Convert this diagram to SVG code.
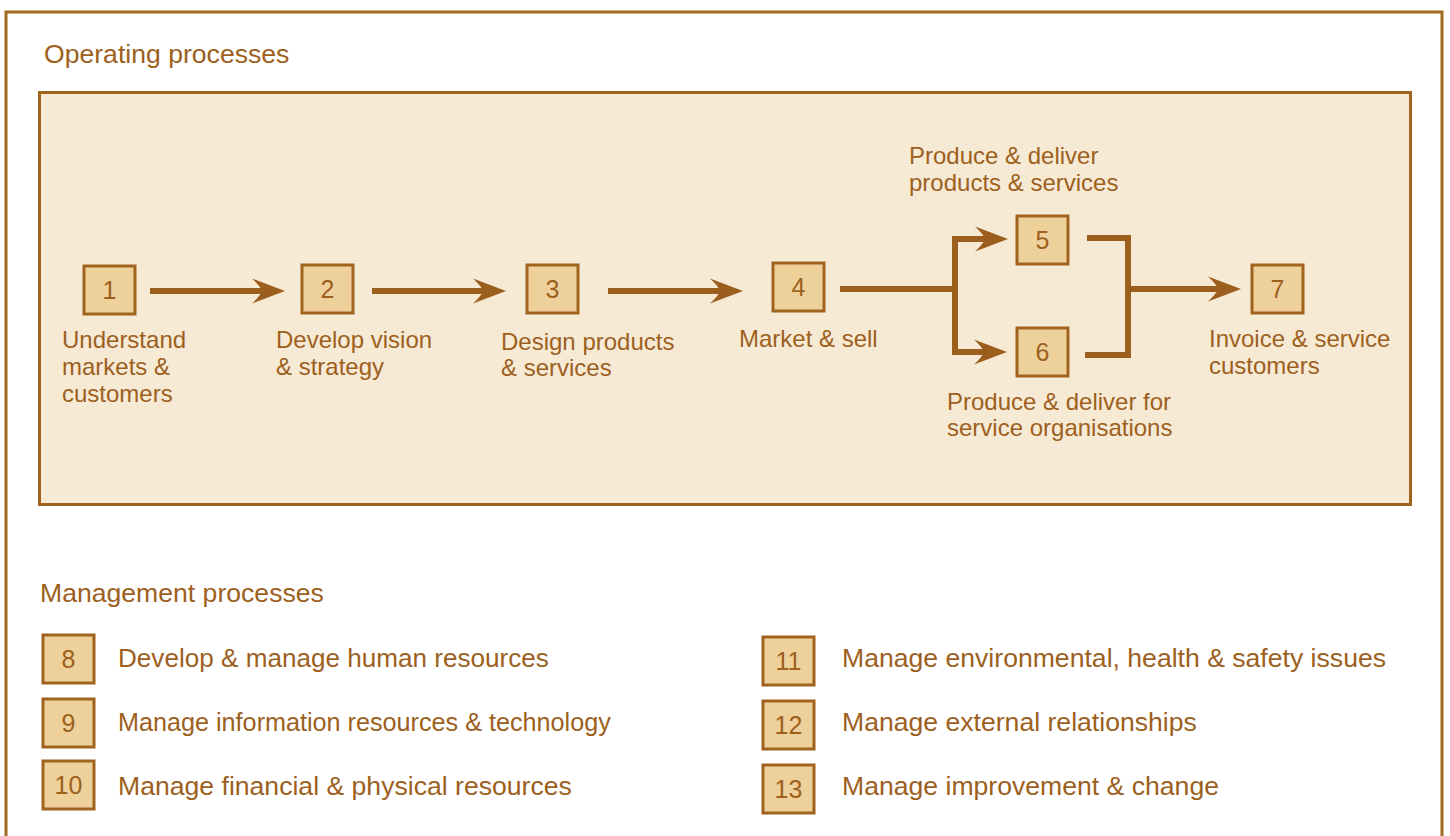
<svg xmlns="http://www.w3.org/2000/svg" width="1450" height="836" viewBox="0 0 1450 836">
<defs>
<style>
text{font-family:"Liberation Sans",Arial,sans-serif;fill:#9d601d;font-size:24px}
.big{font-size:26.6px}
.num{text-anchor:middle;font-size:25px}
.box{fill:#eed09b;stroke:#a1641f;stroke-width:3}
.ln{fill:none;stroke:#9b5e1d;stroke-width:6}
.arr{fill:none;stroke:#9b5e1d;stroke-width:6;marker-end:url(#ah)}
</style>
<marker id="ah" markerUnits="userSpaceOnUse" markerWidth="36" markerHeight="28" viewBox="0 0 36 28" refX="11" refY="14" orient="auto">
<path d="M34,14 L1,1.5 Q10,10 11,14 Q10,18 1,26.5 Z" fill="#9b5e1d"/>
</marker>
</defs>
<rect width="1450" height="836" fill="#ffffff"/>
<path d="M6,845 V12 H1442 V845" fill="none" stroke="#a3681f" stroke-width="3"/>
<text class="big" x="44" y="63">Operating processes</text>
<rect x="39.5" y="92.5" width="1371" height="412" fill="#f7ead5" stroke="#a1641f" stroke-width="3"/>

<g id="connectors">
<path class="arr" d="M150,291 H262"/>
<path class="arr" d="M372,291 H483"/>
<path class="arr" d="M608,291 H720"/>
<path class="ln" d="M840,289 H955"/>
<path class="ln" d="M955,236 V355"/>
<path class="arr" d="M952,239 H985"/>
<path class="arr" d="M952,352 H984"/>
<path class="ln" d="M1087,238 H1128 V355 H1085"/>
<path class="arr" d="M1128,289 H1218"/>
</g>

<g id="n1"><rect class="box" x="84" y="266" width="51" height="48"/><text class="num" x="109.5" y="299">1</text>
<text x="62" y="348">Understand</text><text x="62" y="375">markets &amp;</text><text x="62" y="402">customers</text></g>
<g id="n2"><rect class="box" x="302" y="265" width="51" height="48"/><text class="num" x="327.5" y="298">2</text>
<text x="276" y="348">Develop vision</text><text x="276" y="375">&amp; strategy</text></g>
<g id="n3"><rect class="box" x="527" y="265" width="51" height="48"/><text class="num" x="552.5" y="298">3</text>
<text x="501" y="350">Design products</text><text x="501" y="376">&amp; services</text></g>
<g id="n4"><rect class="box" x="773" y="263" width="51" height="48"/><text class="num" x="798.5" y="296">4</text>
<text x="739" y="347">Market &amp; sell</text></g>
<g id="n5"><rect class="box" x="1017" y="216" width="51" height="48"/><text class="num" x="1042.5" y="249">5</text>
<text x="909" y="164">Produce &amp; deliver</text><text x="909" y="191">products &amp; services</text></g>
<g id="n6"><rect class="box" x="1017" y="328" width="51" height="48"/><text class="num" x="1042.5" y="361">6</text>
<text x="947" y="410">Produce &amp; deliver for</text><text x="947" y="436">service organisations</text></g>
<g id="n7"><rect class="box" x="1252" y="265" width="51" height="48"/><text class="num" x="1277.5" y="298">7</text>
<text x="1209" y="347">Invoice &amp; service</text><text x="1209" y="374">customers</text></g>

<text class="big" x="40" y="602">Management processes</text>
<g id="n8"><rect class="box" x="43" y="635" width="51" height="48"/><text class="num" x="68.5" y="668">8</text><text class="big" x="118" y="667" style="font-size:26.1px">Develop &amp; manage human resources</text></g>
<g id="n9"><rect class="box" x="43" y="699" width="51" height="48"/><text class="num" x="68.5" y="732">9</text><text class="big" x="118" y="731" style="font-size:25.2px">Manage information resources &amp; technology</text></g>
<g id="n10"><rect class="box" x="43" y="761" width="51" height="48"/><text class="num" x="68.5" y="794">10</text><text class="big" x="118" y="795">Manage financial &amp; physical resources</text></g>
<g id="n11"><rect class="box" x="763" y="637" width="51" height="48"/><text class="num" x="788.5" y="670">11</text><text class="big" x="842" y="667">Manage environmental, health &amp; safety issues</text></g>
<g id="n12"><rect class="box" x="763" y="701" width="51" height="48"/><text class="num" x="788.5" y="734">12</text><text class="big" x="842" y="731">Manage external relationships</text></g>
<g id="n13"><rect class="box" x="763" y="765" width="51" height="48"/><text class="num" x="788.5" y="798">13</text><text class="big" x="842" y="795">Manage improvement &amp; change</text></g>
</svg>
